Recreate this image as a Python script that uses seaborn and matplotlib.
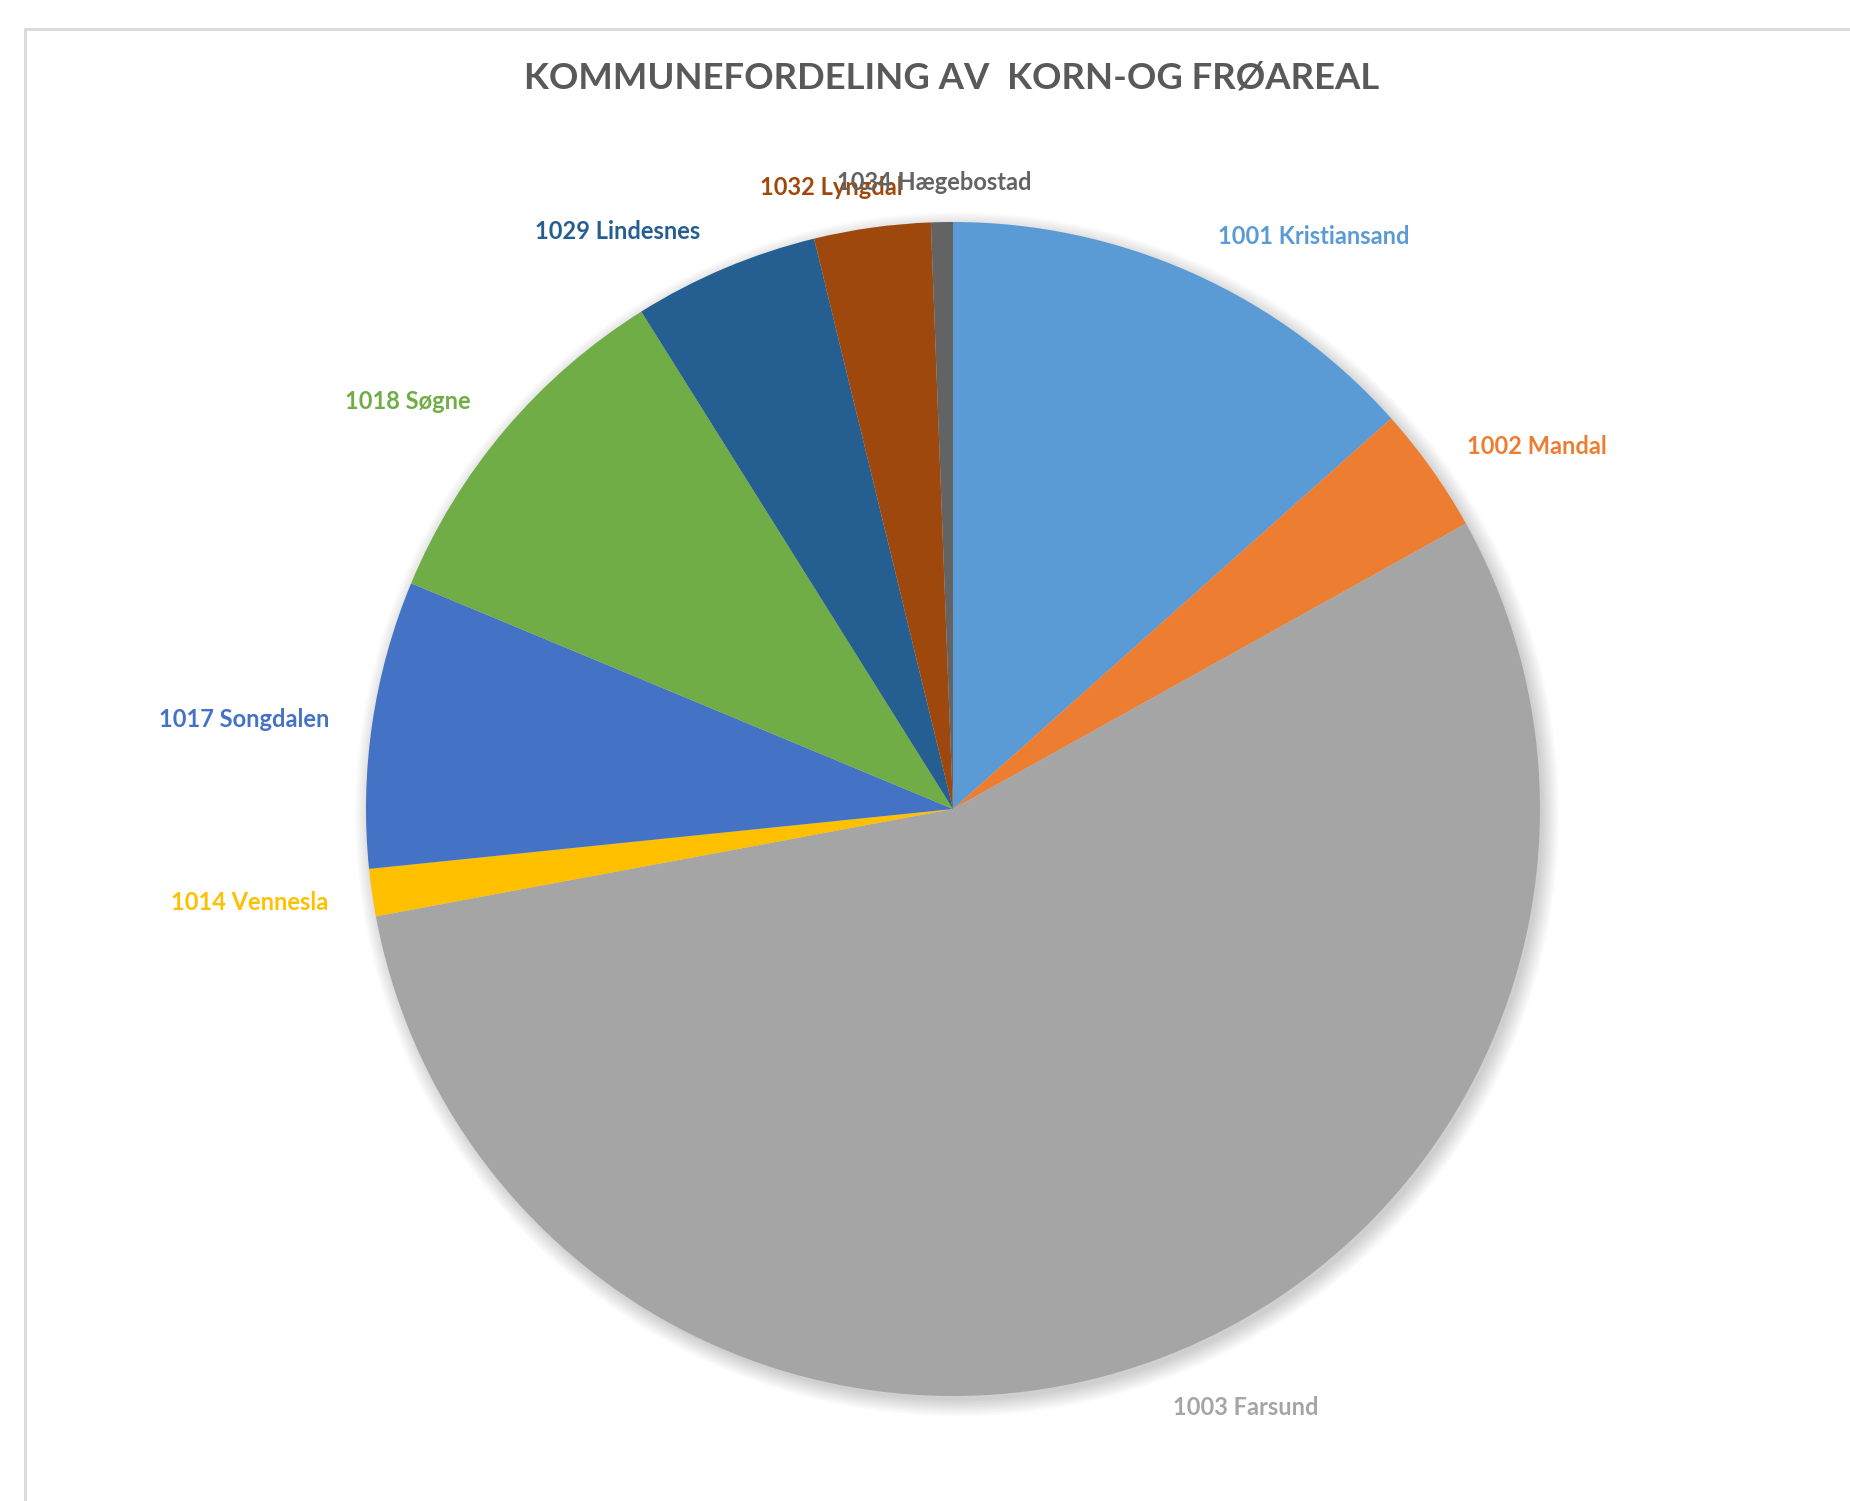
import matplotlib
matplotlib.use("Agg")
import matplotlib.pyplot as plt
from matplotlib.patches import Circle
from matplotlib.lines import Line2D
import seaborn as sns

# Share of grain and seed area per municipality (%)
kommuner = [
    "1001 Kristiansand", "1002 Mandal", "1003 Farsund", "1014 Vennesla",
    "1017 Songdalen", "1018 Søgne", "1029 Lindesnes", "1032 Lyngdal",
    "1034 Hægebostad",
]
andel = [13.4, 3.5, 55.1, 1.3, 7.9, 9.8, 5.1, 3.2, 0.6]

farger = ["#5B9BD5", "#ED7D31", "#A5A5A5", "#FFC000", "#4472C4",
          "#70AD47", "#255E91", "#9E480E", "#636363"]

# Label anchor points, in pie-radius units
etikett_pos = [(0.615, 0.976), (0.995, 0.618), (0.499, -1.019),
               (-1.198, -0.159), (-1.208, 0.153), (-0.928, 0.694),
               (-0.572, 0.984), (-0.208, 1.059), (-0.032, 1.068)]

sns.set_theme(style="white")
plt.rcParams["font.family"] = ["Lato", "DejaVu Sans"]

W, H, DPI = 1850, 1501, 100
fig = plt.figure(figsize=(W / DPI, H / DPI), dpi=DPI)
fig.patch.set_facecolor("white")

# Chart frame (top and left edges visible)
fig.add_artist(Line2D([25 / W, 25 / W], [0, 1 - 29 / H], transform=fig.transFigure,
                      color="#d9d9d9", lw=2))
fig.add_artist(Line2D([25 / W, 1], [1 - 29 / H, 1 - 29 / H], transform=fig.transFigure,
                      color="#d9d9d9", lw=2))

ax = fig.add_axes([0, 0, 1, 1])
cx, cy, R = 953, 809, 587

# Soft drop shadow beneath the pie
for k in range(12):
    ax.add_patch(Circle((0.007, -0.009), 0.998 + 0.0025 * k, color="black",
                        alpha=0.016, lw=0, zorder=0))

ax.pie(andel, colors=farger, startangle=90, counterclock=False, radius=1.0,
       wedgeprops=dict(linewidth=0), frame=True)
ax.set_xlim((0 - cx) / R, (W - cx) / R)
ax.set_ylim((cy - H) / R, cy / R)
ax.set_aspect("auto")
ax.axis("off")

for navn, farge, (x, y) in zip(kommuner, farger, etikett_pos):
    ax.text(x, y, navn, color=farge, fontsize=17, fontweight="bold",
            ha="center", va="center", zorder=5)

fig.text(952 / W, 1 - 78 / H, "KOMMUNEFORDELING AV  KORN-OG FRØAREAL",
         ha="center", va="center", fontsize=26.3, fontweight="bold", color="#595959")

fig.savefig("out.png", dpi=DPI, facecolor="white")
